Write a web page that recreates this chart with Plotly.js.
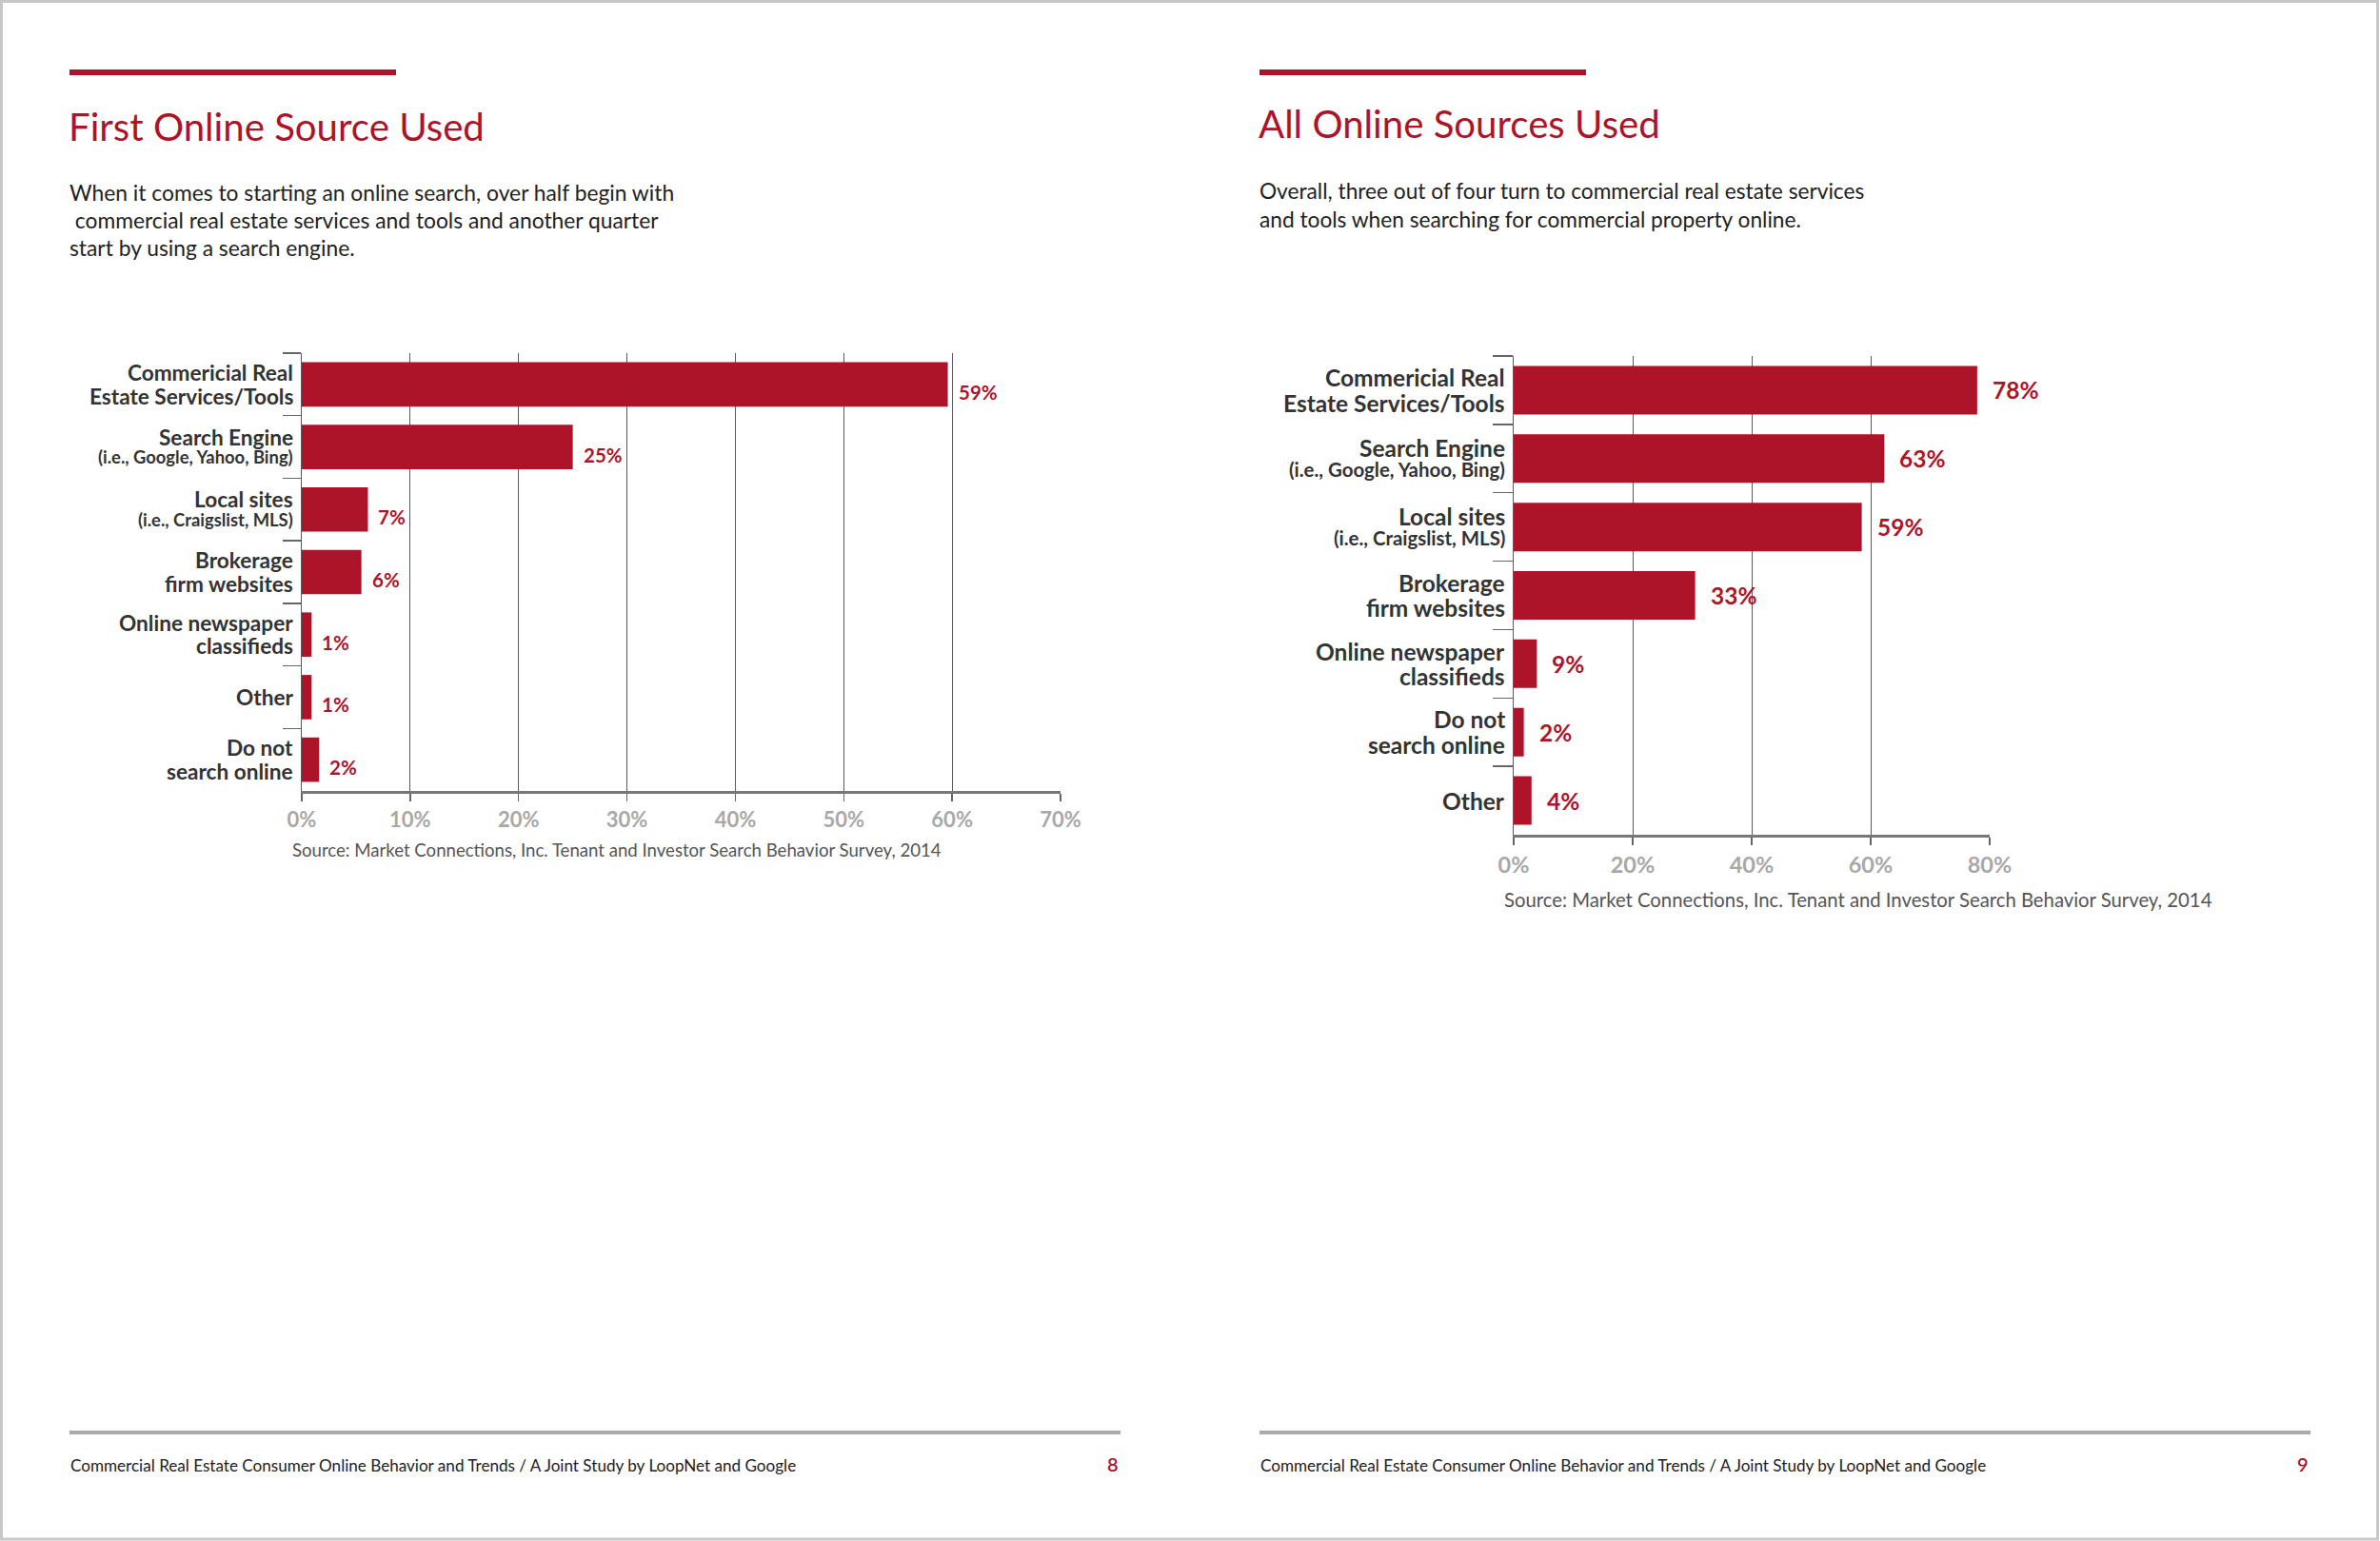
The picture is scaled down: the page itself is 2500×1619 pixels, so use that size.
<!DOCTYPE html>
<html>
<head>
<meta charset="utf-8">
<script src="https://cdn.plot.ly/plotly-3.0.1.min.js"></script>
<style>
html, body { margin: 0; padding: 0; background: #ffffff; overflow: hidden; }
#chart { width: 2500px; height: 1619px; }
</style>
</head>
<body>
<div id="chart"></div>
<script>
// ---------- DATA ----------
const firstCategories = ['Commericial Real Estate Services/Tools', 'Search Engine', 'Local sites', 'Brokerage firm websites', 'Online newspaper classifieds', 'Other', 'Do not search online'];
const firstCategoryLines = [['Commericial Real', 'Estate Services/Tools'], ['Search Engine'], ['Local sites'], ['Brokerage', 'firm websites'], ['Online newspaper', 'classifieds'], ['Other'], ['Do not', 'search online']];
const firstNotes = ['', '(i.e., Google, Yahoo, Bing)', '(i.e., Craigslist, MLS)', '', '', '', ''];
const firstValues = [59.6, 25.0, 6.1, 5.5, 0.9, 0.9, 1.6];
const firstLabels = ['59%', '25%', '7%', '6%', '1%', '1%', '2%'];
const firstTicks = [0, 10, 20, 30, 40, 50, 60, 70];

const allCategories = ['Commericial Real Estate Services/Tools', 'Search Engine', 'Local sites', 'Brokerage firm websites', 'Online newspaper classifieds', 'Do not search online', 'Other'];
const allCategoryLines = [['Commericial Real', 'Estate Services/Tools'], ['Search Engine'], ['Local sites'], ['Brokerage', 'firm websites'], ['Online newspaper', 'classifieds'], ['Do not', 'search online'], ['Other']];
const allNotes = ['', '(i.e., Google, Yahoo, Bing)', '(i.e., Craigslist, MLS)', '', '', '', ''];
const allValues = [77.9, 62.3, 58.5, 30.5, 3.9, 1.7, 3.0];
const allLabels = ['78%', '63%', '59%', '33%', '9%', '2%', '4%'];
const allTicks = [0, 20, 40, 60, 80];

const leftTitle = 'First Online Source Used';
const leftBody = ['When it comes to starting an online search, over half begin with', '\u00a0commercial real estate services and tools and another quarter', 'start by using a search engine.'];
const rightTitle = 'All Online Sources Used';
const rightBody = ['Overall, three out of four turn to commercial real estate services', 'and tools when searching for commercial property online.'];
const sourceText = 'Source: Market Connections, Inc. Tenant and Investor Search Behavior Survey, 2014';
const footerText = 'Commercial Real Estate Consumer Online Behavior and Trends / A Joint Study by LoopNet and Google';
const pageNumbers = ['8', '9'];

// ---------- STYLE ----------
const W = 2500, H = 1619;
const RED = '#ad1329';
const FONT = 'Lato, "Open Sans", sans-serif';
const px = x => x / W;
const py = y => 1 - y / H;

const traces = [
  {
    type: 'bar', orientation: 'h',
    x: firstValues, y: firstCategories,
    xaxis: 'x', yaxis: 'y',
    marker: { color: RED },
    width: 0.71,
    hoverinfo: 'skip'
  },
  {
    type: 'bar', orientation: 'h',
    x: allValues, y: allCategories,
    xaxis: 'x2', yaxis: 'y2',
    marker: { color: RED },
    width: 0.71,
    hoverinfo: 'skip'
  }
];

const annotations = [];

// category labels: one annotation per line, stacked around the category centre
function addCategoryLabels(cats, lines, notes, yref, xPx, mainSize, noteSize, mainGap, noteGap) {
  cats.forEach((c, i) => {
    const items = lines[i].map(t => ({ t: t, s: mainSize, note: false }));
    if (notes[i]) items.push({ t: notes[i], s: noteSize, note: true });
    const offs = [0];
    for (let k = 1; k < items.length; k++) offs.push(offs[k - 1] + (items[k].note ? noteGap : mainGap));
    const mid = (offs[0] + offs[offs.length - 1]) / 2;
    items.forEach((it, k) => {
      annotations.push({
        xref: 'paper', yref: yref, x: px(xPx), y: c, xanchor: 'right', yanchor: 'middle', align: 'right',
        text: it.t, showarrow: false, yshift: -(offs[k] - mid),
        font: { family: FONT, size: it.s, color: '#333333', weight: 700 }
      });
    });
  });
}
addCategoryLabels(firstCategories, firstCategoryLines, firstNotes, 'y', 310, 22.6, 18.4, 24.5, 21);
addCategoryLabels(allCategories, allCategoryLines, allNotes, 'y2', 1583, 24.5, 20.4, 26.5, 22.5);

// value labels
firstCategories.forEach((c, i) => annotations.push({
  xref: 'x', yref: 'y', x: firstValues[i], y: c, xanchor: 'left', yanchor: 'middle',
  text: firstLabels[i], showarrow: false, xshift: 9, yshift: -8,
  font: { family: FONT, size: 20.5, color: RED, weight: 700 }
}));
allCategories.forEach((c, i) => annotations.push({
  xref: 'x2', yref: 'y2', x: allValues[i], y: c, xanchor: 'left', yanchor: 'middle',
  text: allLabels[i], showarrow: false, xshift: 14, yshift: 0,
  font: { family: FONT, size: 24.5, color: RED, weight: 700 }
}));

// titles
annotations.push({ xref: 'paper', yref: 'paper', x: px(70), y: py(132), xanchor: 'left', yanchor: 'middle', text: leftTitle, showarrow: false, font: { family: FONT, size: 40.2, color: RED } });
annotations.push({ xref: 'paper', yref: 'paper', x: px(1320), y: py(130), xanchor: 'left', yanchor: 'middle', text: rightTitle, showarrow: false, font: { family: FONT, size: 40.2, color: RED } });
// body text
leftBody.forEach((t, i) => annotations.push({ xref: 'paper', yref: 'paper', x: px(71), y: py(202 + 29 * i), xanchor: 'left', yanchor: 'middle', text: t, showarrow: false, font: { family: FONT, size: 22.8, color: '#222222' } }));
rightBody.forEach((t, i) => annotations.push({ xref: 'paper', yref: 'paper', x: px(1321), y: py(201 + 29 * i), xanchor: 'left', yanchor: 'middle', text: t, showarrow: false, font: { family: FONT, size: 22.7, color: '#222222' } }));
// sources
annotations.push({ xref: 'paper', yref: 'paper', x: px(305), y: py(893), xanchor: 'left', yanchor: 'middle', text: sourceText, showarrow: false, font: { family: FONT, size: 18.6, color: '#555555' } });
annotations.push({ xref: 'paper', yref: 'paper', x: px(1578), y: py(945), xanchor: 'left', yanchor: 'middle', text: sourceText, showarrow: false, font: { family: FONT, size: 20.3, color: '#555555' } });
// footers
[73, 1323].forEach((x0, i) => {
  annotations.push({ xref: 'paper', yref: 'paper', x: px(x0 - 1), y: py(1539), xanchor: 'left', yanchor: 'middle', text: footerText, showarrow: false, font: { family: FONT, size: 17.1, color: '#222222' } });
  annotations.push({ xref: 'paper', yref: 'paper', x: px(x0 + 1104), y: py(1538), xanchor: 'right', yanchor: 'middle', text: pageNumbers[i], showarrow: false, font: { family: FONT, size: 20, color: RED, weight: 600 } });
});

const shapes = [
  // page border
  { type: 'rect', xref: 'paper', yref: 'paper', x0: px(1.5), x1: px(2497.5), y0: py(1617), y1: py(1.5), line: { color: '#c8c8c8', width: 3 }, fillcolor: 'rgba(0,0,0,0)' },
  // red rules
  { type: 'line', xref: 'paper', yref: 'paper', x0: px(73), x1: px(416), y0: py(76), y1: py(76), line: { color: RED, width: 6 } },
  { type: 'line', xref: 'paper', yref: 'paper', x0: px(1323), x1: px(1666), y0: py(76), y1: py(76), line: { color: RED, width: 6 } },
  // footer rules
  { type: 'line', xref: 'paper', yref: 'paper', x0: px(73), x1: px(1177), y0: py(1505), y1: py(1505), line: { color: '#aaaaaa', width: 4 } },
  { type: 'line', xref: 'paper', yref: 'paper', x0: px(1323), x1: px(2427), y0: py(1505), y1: py(1505), line: { color: '#aaaaaa', width: 4 } }
];

const xCommon = {
  showgrid: true, gridcolor: '#5a5a5a', gridwidth: 1,
  zeroline: false, showline: true, linecolor: '#777777', linewidth: 2.5,
  ticks: 'outside', ticklen: 8, tickwidth: 1.5, tickcolor: '#666666',
  tickmode: 'array',
  tickfont: { family: FONT, size: 22, color: '#a8a8a8', weight: 700 },
  fixedrange: true
};
const yCommon = {
  type: 'category', showgrid: false, zeroline: false,
  showline: true, linecolor: '#5a5a5a', linewidth: 1.5,
  ticks: 'outside', tickson: 'boundaries', tickwidth: 1.5, tickcolor: '#666666',
  showticklabels: false, fixedrange: true, range: [6.5, -0.5]
};

const layout = {
  width: W, height: H,
  margin: { l: 0, r: 0, t: 0, b: 0, pad: 0 },
  paper_bgcolor: '#ffffff', plot_bgcolor: 'rgba(0,0,0,0)',
  showlegend: false,
  font: { family: FONT },
  xaxis: Object.assign({}, xCommon, { domain: [px(317), px(1114)], range: [0, 70], tickvals: firstTicks, ticktext: firstTicks.map(v => '<b>' + v + '%</b>'), anchor: 'y', ticklabelstandoff: 1 }),
  yaxis: Object.assign({}, yCommon, { domain: [py(831), py(371)], anchor: 'x', ticklen: 19, categoryarray: firstCategories, categoryorder: 'array' }),
  xaxis2: Object.assign({}, xCommon, { domain: [px(1590), px(2090)], range: [0, 80], tickvals: allTicks, ticktext: allTicks.map(v => '<b>' + v + '%</b>'), anchor: 'y2', ticklabelstandoff: 1, tickfont: { family: FONT, size: 23.5, color: '#a8a8a8', weight: 700 } }),
  yaxis2: Object.assign({}, yCommon, { domain: [py(877), py(374)], anchor: 'x2', ticklen: 21, categoryarray: allCategories, categoryorder: 'array' }),
  annotations: annotations,
  shapes: shapes
};

Plotly.newPlot('chart', traces, layout, { staticPlot: true, displayModeBar: false });
</script>
</body>
</html>
